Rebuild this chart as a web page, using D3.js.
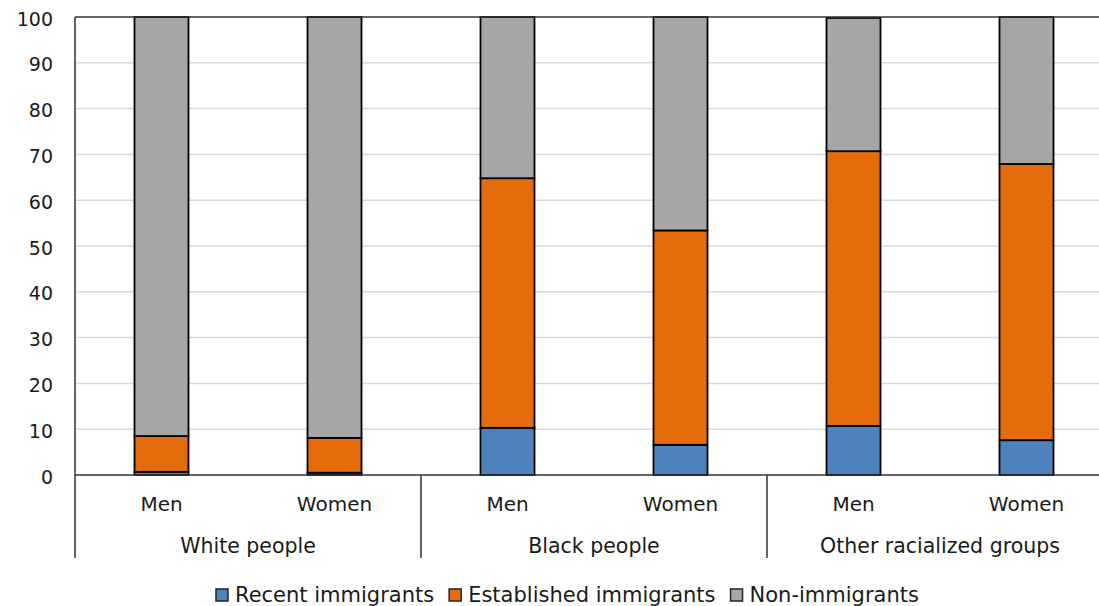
<!DOCTYPE html>
<html><head><meta charset="utf-8">
<script src="https://cdn.jsdelivr.net/npm/d3@7"></script>
<style>body{margin:0;background:#fff}svg{display:block}text{font-family:"DejaVu Sans",Verdana,sans-serif;fill:#1a1a1a}</style>
</head><body><svg id="c" width="1099" height="606"></svg>
<script>
const groups = ["White people","Black people","Other racialized groups"];
const sexes = ["Men","Women"];
const seriesNames = ["Recent immigrants","Established immigrants","Non-immigrants"];
const recent = [0.7, 0.5, 10.3, 6.6, 10.7, 7.6];
const established = [7.8, 7.6, 54.5, 46.8, 60.0, 60.3];
const nonImmigrants = [91.5, 91.9, 35.2, 46.6, 29.1, 32.1];
const yTicks = [0,10,20,30,40,50,60,70,80,90,100];
const colors = ["#4f81bd","#e46c0a","#a6a6a6"];

(function(){
const svg = d3.select("#c");
const mL = 75, mT = 17, mB = 475, mR = 1113;
const cats = [];
groups.forEach((g,i)=>sexes.forEach((s,j)=>cats.push({g,s,i,idx:i*2+j})));
const x = d3.scaleBand().domain(cats.map(c=>c.idx)).range([mL,mR]).paddingInner(0).paddingOuter(0);
const y = d3.scaleLinear().domain([0,100]).range([mB,mT]);

svg.append("g").selectAll("line").data(yTicks.filter(t=>t>0&&t<100)).join("line")
  .attr("x1",mL).attr("x2",mR).attr("y1",d=>y(d)).attr("y2",d=>y(d))
  .attr("stroke","#d9d9d9").attr("stroke-width",1.5);

const yAxis = d3.axisLeft(y).tickValues(yTicks).tickSize(0).tickPadding(22);
const ya = svg.append("g").attr("transform",`translate(${mL},0)`).call(yAxis);
ya.select(".domain").remove();
ya.selectAll("text").attr("dy",null).attr("y",8).style("font-size","19px").attr("fill","#1a1a1a").attr("font-family","DejaVu Sans, Verdana, sans-serif");

const rows = cats.map((c,k)=>({idx:c.idx, r:recent[k], e:established[k], n:nonImmigrants[k]}));
const stacked = d3.stack().keys(["r","e","n"])(rows);
const bw = 54;
stacked.forEach((layer,li)=>{
  svg.append("g").selectAll("rect").data(layer).join("rect")
    .attr("x",d=>x(d.data.idx)+x.bandwidth()/2-bw/2)
    .attr("width",bw)
    .attr("y",d=>y(d[1]))
    .attr("height",d=>y(d[0])-y(d[1]))
    .attr("fill",colors[li]).attr("stroke","#000").attr("stroke-width",1.8);
});

svg.append("line").attr("x1",mL).attr("x2",mR).attr("y1",mT).attr("y2",mT).attr("stroke","#333").attr("stroke-width",1.5);
svg.append("line").attr("x1",mL).attr("x2",mL).attr("y1",mT).attr("y2",558).attr("stroke","#333").attr("stroke-width",1.5);
svg.append("line").attr("x1",mL).attr("x2",mR).attr("y1",mB).attr("y2",mB).attr("stroke","#333").attr("stroke-width",1.5);
const gw = x.bandwidth()*2;
groups.forEach((g,i)=>{
  const gx = mL + gw*(i+1);
  svg.append("line").attr("x1",gx).attr("x2",gx).attr("y1",mB).attr("y2",558).attr("stroke","#333").attr("stroke-width",1.5);
  svg.append("text").attr("x",mL+gw*i+gw/2).attr("y",553).attr("text-anchor","middle").style("font-size","20.5px").text(g);
});
cats.forEach(c=>{
  svg.append("text").attr("x",x(c.idx)+x.bandwidth()/2).attr("y",511).attr("text-anchor","middle").style("font-size","20px").text(c.s);
});

const lg = svg.append("g");
let lx = 216;
seriesNames.forEach((n,i)=>{
  lg.append("rect").attr("x",lx).attr("y",589).attr("width",12).attr("height",12).attr("fill",colors[i]).attr("stroke","#222").attr("stroke-width",1.5);
  const t = lg.append("text").attr("x",lx+19).attr("y",602).style("font-size","21px").text(n);
  lx += 19 + t.node().getComputedTextLength() + 15;
});
})();
</script></body></html>
